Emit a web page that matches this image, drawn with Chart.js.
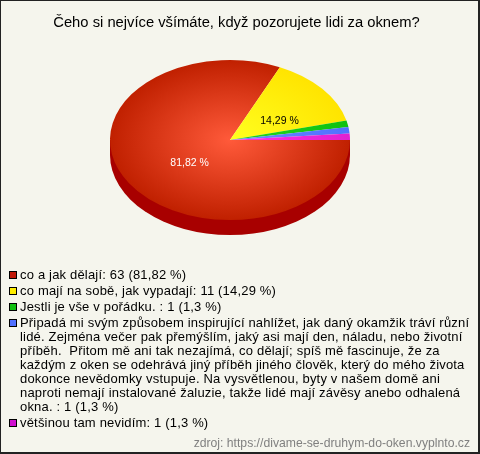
<!DOCTYPE html>
<html lang="cs">
<head>
<meta charset="utf-8">
<style>
    html, body { margin: 0; padding: 0; }
    body { width: 480px; height: 454px; overflow: hidden; background: #f5f5ed; position: relative; }
    #chart { position: absolute; left: 0; top: 0; }
    #frame { position: absolute; left: 0; top: 0; width: 480px; height: 454px; box-sizing: border-box; border: 1px solid #222; border-right-width: 2px; border-bottom-width: 2px; }
    #legend { position: absolute; left: 9px; top: 268px; margin: 0; padding: 0; list-style: none; font: 13px/14px "Liberation Sans", Arial, sans-serif; letter-spacing: 0.18px; color: #000; }
    #legend li { position: relative; padding-left: 11px; margin-bottom: 2px; white-space: pre; }
    #legend i { position: absolute; left: 0; top: 3px; width: 6px; height: 6px; border: 1px solid #000; }
    #source { position: absolute; right: 10px; top: 436px; font: 12.2px "Liberation Sans", Arial, sans-serif; color: #808080; }
</style>
</head>
<body>
<canvas id="chart" width="480" height="454"></canvas>
<ul id="legend"></ul>
<div id="source"></div>
<div id="frame"></div>
<script src="https://cdn.jsdelivr.net/npm/chart.js@4/dist/chart.umd.js"></script>
<script>
const titleText = 'Čeho si nejvíce všímáte, když pozorujete lidi za oknem?';
const sourceText = 'zdroj: https://divame-se-druhym-do-oken.vyplnto.cz';
const answers = [
    ['co a jak dělají'],
    ['co mají na sobě, jak vypadají'],
    ['Jestli je vše v pořádku. '],
    ['Připadá mi svým způsobem inspirující nahlížet, jak daný okamžik tráví různí',
     'lidé. Zejména večer pak přemýšlím, jaký asi mají den, náladu, nebo životní',
     'příběh.  Přitom mě ani tak nezajímá, co dělají; spíš mě fascinuje, že za',
     'každým z oken se odehrává jiný příběh jiného člověk, který do mého života',
     'dokonce nevědomky vstupuje. Na vysvětlenou, byty v našem domě ani',
     'naproti nemají instalované žaluzie, takže lidé mají závěsy anebo odhalená',
     'okna. '],
    ['většinou tam nevidím']
];
const counts = [63, 11, 1, 1, 1];
const shares = ['81,82 %', '14,29 %', '1,3 %', '1,3 %', '1,3 %'];
const sliceLabels = ['81,82 %', '14,29 %', '', '', ''];
const labelColors = ['#ffffff', '#000000', '', '', ''];
const innerColors = ['#ff5a3a', '#ffff20', '#20d820', '#6a8aff', '#ff30e8'];
const outerColors = ['#c02000', '#ffe400', '#10c010', '#5070ff', '#e020d0'];
const swatchColors = ['#c01808', '#ffee00', '#10c010', '#5070ff', '#d010d0'];

// the library only draws circles, so the pie is squashed around this point
const PIE_X = 230, PIE_Y = 140, PIE_R = 120, SQUASH = 2 / 3, DEPTH = 15;
// the original puts its slice labels a bit off the mid radius
const labelNudge = [[5, 4], [8, 4]];

function sliceFill(context) {
    const area = context.chart.chartArea;
    if (!area) return outerColors[context.dataIndex];
    const cx = (area.left + area.right) / 2, cy = (area.top + area.bottom) / 2;
    const g = context.chart.ctx.createRadialGradient(cx, cy, 0, cx, cy, PIE_R);
    g.addColorStop(0, innerColors[context.dataIndex]);
    g.addColorStop(1, outerColors[context.dataIndex]);
    return g;
}

const squashPlugin = {
    id: 'squash',
    beforeDatasetsDraw(chart) {
        const ctx = chart.ctx;
        const arc = chart.getDatasetMeta(0).data[0];
        const rx = arc.outerRadius, ry = rx * SQUASH;
        // dark side of the pie, only the front half shows
        ctx.save();
        ctx.fillStyle = '#a80000';
        ctx.beginPath();
        ctx.ellipse(PIE_X, PIE_Y + DEPTH, rx, ry, 0, 0, Math.PI);
        ctx.lineTo(PIE_X - rx, PIE_Y);
        ctx.lineTo(PIE_X + rx, PIE_Y);
        ctx.closePath();
        ctx.fill();
        ctx.restore();

        ctx.save();
        ctx.translate(PIE_X, PIE_Y);
        ctx.scale(1, SQUASH);
        ctx.translate(-arc.x, -arc.y);
    },
    afterDatasetsDraw(chart) {
        const ctx = chart.ctx;
        ctx.restore();
        // labels inside the big slices
        chart.getDatasetMeta(0).data.forEach((arc, i) => {
            if (!sliceLabels[i]) return;
            const mid = (arc.startAngle + arc.endAngle) / 2;
            const r = arc.outerRadius * 0.45;
            ctx.save();
            ctx.font = '10.5px "Liberation Sans", Arial, sans-serif';
            ctx.fillStyle = labelColors[i];
            ctx.textAlign = 'center';
            ctx.textBaseline = 'middle';
            ctx.fillText(sliceLabels[i],
                PIE_X + Math.cos(mid) * r + labelNudge[i][0],
                PIE_Y + Math.sin(mid) * r * SQUASH + labelNudge[i][1]);
            ctx.restore();
        });
    }
};

new Chart(document.getElementById('chart'), {
    type: 'pie',
    plugins: [squashPlugin],
    data: {
        labels: answers.map(a => a.join(' ')),
        datasets: [{ data: counts, backgroundColor: sliceFill, borderWidth: 0 }]
    },
    options: {
        responsive: false,
        animation: false,
        rotation: 90,
        radius: PIE_R,
        layout: { padding: { right: 7 } },
        plugins: {
            legend: { display: false },
            tooltip: { enabled: false },
            title: {
                display: true,
                text: titleText,
                color: '#000',
                font: { family: '"Liberation Sans", Arial, sans-serif', size: 14.75, weight: 'normal' },
                padding: { top: 14, bottom: 10 }
            }
        }
    }
});

const legend = document.getElementById('legend');
answers.forEach((lines, i) => {
    const li = document.createElement('li');
    const box = document.createElement('i');
    box.style.background = swatchColors[i];
    li.appendChild(box);
    li.appendChild(document.createTextNode(lines.join('\n') + ': ' + counts[i] + ' (' + shares[i] + ')'));
    legend.appendChild(li);
});
document.getElementById('source').textContent = sourceText;
</script>
</body>
</html>
